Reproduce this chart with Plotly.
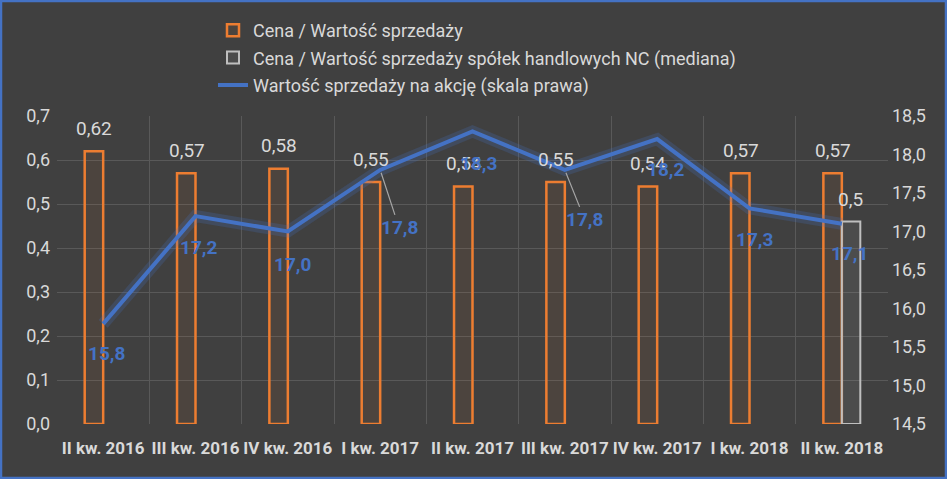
import plotly.graph_objects as go

categories = ["II kw. 2016", "III kw. 2016", "IV kw. 2016", "I kw. 2017", "II kw. 2017",
              "III kw. 2017", "IV kw. 2017", "I kw. 2018", "II kw. 2018"]
price_sales = [0.62, 0.57, 0.58, 0.55, 0.54, 0.55, 0.54, 0.57, 0.57]
price_sales_nc = [None, None, None, None, None, None, None, None, 0.46]
sales_per_share = [15.8, 17.2, 17.0, 17.8, 18.3, 17.8, 18.2, 17.3, 17.1]
# label offsets (px) for the line labels; leader line where arrow=True
line_label_dx = [3, 3, 5, 19, 6, 20, 8, 5, 8]
line_label_dy = [30, 31, 33, 58, 32, 50, 30, 31, 30]
line_label_leader = [False, False, False, True, False, True, False, False, False]

W, H = 947, 479
ML, MR, MT, MB = 57, 59, 116, 55
PW, PH = W - ML - MR, H - MT - MB

FONT = "Roboto, Open Sans, sans-serif"
TXT = "#d9d9d9"
ORANGE = "#ED7D31"
BLUE = "#4472C4"
GRID = "#595959"


def fmt(v, nd):
    return f"{v:.{nd}f}".replace(".", ",")


fig = go.Figure()

fig.add_trace(go.Bar(
    name="Cena / Wartość sprzedaży", x=categories, y=price_sales,
    marker=dict(color="rgba(237,125,49,0.07)", line=dict(color=ORANGE, width=2.5)),
    legendgroup="a",
))
fig.add_trace(go.Bar(
    name="Cena / Wartość sprzedaży spółek handlowych NC (mediana)", x=categories, y=price_sales_nc,
    marker=dict(color="rgba(191,191,191,0.10)", line=dict(color="#bfbfbf", width=2)),
    legendgroup="b",
))
# glow under the line
fig.add_trace(go.Scatter(
    x=categories, y=sales_per_share, yaxis="y2", mode="lines",
    line=dict(color="rgba(68,114,196,0.22)", width=12), showlegend=False, hoverinfo="skip",
))
fig.add_trace(go.Scatter(
    name="Wartość sprzedaży na akcję (skala prawa)", x=categories, y=sales_per_share, yaxis="y2",
    mode="lines", line=dict(color=BLUE, width=4), legendgroup="c",
))

annotations = []
for c, v in zip(categories, price_sales):
    annotations.append(dict(x=c, y=v, xref="x", yref="y", text=fmt(v, 2), showarrow=False,
                            xshift=-9, yshift=23, yanchor="middle",
                            font=dict(color=TXT, size=19, family=FONT)))
for c, v in zip(categories, price_sales_nc):
    if v is not None:
        annotations.append(dict(x=c, y=v, xref="x", yref="y", text=fmt(v, 1), showarrow=False,
                                xshift=9, yshift=22, yanchor="middle",
                                font=dict(color=TXT, size=19, family=FONT)))
for c, v, dx, dy, lead in zip(categories, sales_per_share, line_label_dx, line_label_dy, line_label_leader):
    base = dict(x=c, y=v, xref="x", yref="y2", text=fmt(v, 1),
                font=dict(color=BLUE, size=19, family=FONT, weight="bold"))
    if lead:
        base.update(showarrow=True, ax=dx, ay=dy, axref="pixel", ayref="pixel", arrowhead=0,
                    arrowwidth=1.2, arrowcolor="#a6a6a6", standoff=3)
    else:
        base.update(showarrow=False, xshift=dx, yshift=-dy, yanchor="middle")
    annotations.append(base)

# blue frame around the whole chart
x0 = (1 - ML) / PW
x1 = (W - 1 - ML) / PW
y0 = -(MB - 1) / PH
y1 = 1 + (MT - 1) / PH
fig.add_shape(type="rect", xref="paper", yref="paper", x0=x0, x1=x1, y0=y0, y1=y1,
              line=dict(color=BLUE, width=2.5), layer="above")

fig.update_layout(
    width=W, height=H,
    margin=dict(l=ML, r=MR, t=MT, b=MB, autoexpand=False),
    paper_bgcolor="#404040", plot_bgcolor="#404040",
    font=dict(family=FONT, color=TXT, size=16),
    separators=", ",
    barmode="group", bargap=0.6, bargroupgap=0,
    showlegend=True,
    annotations=annotations,
    legend=dict(x=(213 - ML) / PW, xanchor="left", y=1 + (MT - 12) / PH, yanchor="top",
                orientation="v", bgcolor="rgba(0,0,0,0)", font=dict(size=18, color=TXT, family=FONT),
                tracegroupgap=1, itemwidth=30),
    xaxis=dict(type="category", tickson="boundaries", showgrid=True, gridcolor=GRID,
               ticks="", showline=False, tickangle=0, automargin=False, ticklabelstandoff=12,
               tickfont=dict(size=17, color=TXT, family=FONT, weight="bold"),
               zeroline=False),
    yaxis=dict(range=[0, 0.7], dtick=0.1, tickformat=".1f", showgrid=True, gridcolor=GRID,
               zeroline=False, tickfont=dict(size=18, color=TXT), ticks="", automargin=False,
               ticklabelstandoff=6),
    yaxis2=dict(range=[14.5, 18.5], dtick=0.5, tickformat=".1f", overlaying="y", side="right",
                showgrid=False, zeroline=False, tickfont=dict(size=18, color=TXT), automargin=False,
                ticklabelstandoff=3),
)

fig.write_html("out.html", config={"displayModeBar": False},
               post_script="document.body.style.margin='0';document.body.style.background='#404040';")
